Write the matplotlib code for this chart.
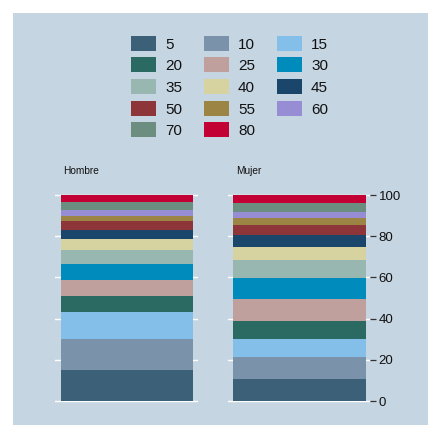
import matplotlib
matplotlib.use("Agg")
import matplotlib.pyplot as plt
from matplotlib.patches import Rectangle

plt.rcParams['font.family'] = ['Liberation Sans', 'DejaVu Sans']

categories = ["5", "10", "15", "20", "25", "30", "35", "40", "45", "50", "55", "60", "70", "80"]
colors = ["#3d6079", "#7a93aa", "#83bfe8", "#2a6a63", "#bfa09d", "#008bbd", "#98b7b0",
          "#d6d3a0", "#1b466b", "#8e353a", "#9c8444", "#978dd4", "#6c8e80", "#c20033"]
groups = ["Hombre", "Mujer"]
hombre = [15.0, 15.1, 13.1, 7.8, 7.7, 7.8, 6.8, 5.3, 4.4, 4.4, 2.4, 2.9, 3.9, 3.4]
mujer = [10.7, 10.7, 8.7, 8.7, 10.7, 10.2, 8.9, 6.3, 5.7, 4.8, 3.3, 3.2, 4.2, 3.9]
yticks = [0, 20, 40, 60, 80, 100]

BG = "#c6d5e2"
W, H = 428, 425
fig = plt.figure(figsize=(W / 100, H / 100), dpi=100, facecolor="white")
fig.patches.append(Rectangle((13 / W, 0), 1 - 13 / W, 1 - 13 / H, transform=fig.transFigure,
                             facecolor=BG, edgecolor="none", zorder=-10))

def fx(px):
    return px / W

def fy(py):
    return 1 - py / H

panel_w = 142.7
panel_top, panel_bot = 184.7, 411.3
lefts = [55.0, 227.7]
data = [hombre, mujer]

for i, (g, vals) in enumerate(zip(groups, data)):
    ax = fig.add_axes([fx(lefts[i]), fy(panel_bot), panel_w / W, (panel_bot - panel_top) / H])
    ax.set_facecolor(BG)
    bottom = 0.0
    for v, c in zip(vals, colors):
        ax.bar([0], [v], bottom=bottom, width=1.0, color=c, edgecolor="none", zorder=3)
        bottom += v
    ax.set_xlim(-0.543, 0.536)
    ax.set_ylim(-5, 105)
    ax.set_yticks(yticks)
    ax.set_xticks([])
    ax.grid(axis="y", color="white", linewidth=1.0, zorder=0)
    for s in ax.spines.values():
        s.set_visible(False)
    if i == 1:
        ax.yaxis.tick_right()
        ax.tick_params(axis="y", length=4, width=0.9, color="#333333", labelsize=9.5,
                       labelcolor="#111111", pad=2)
    else:
        ax.tick_params(axis="y", length=0, labelleft=False)
    fig.text(fx(lefts[i] + 8), fy(170.7), g, fontsize=7.3, ha="left", va="center", color="#111111")

# legend (row-major, 3 columns)
sw_x = [131, 204, 277]
txt_dx = 34
row_y = [43.2, 64.8, 86.5, 108.2, 129.8]
for k, (lab, c) in enumerate(zip(categories, colors)):
    r, col = divmod(k, 3)
    x0 = sw_x[col]
    yc = row_y[r]
    fig.patches.append(Rectangle((fx(x0), fy(yc + 7.5)), 25 / W, 15 / H, transform=fig.transFigure,
                                 facecolor=c, edgecolor="none"))
    fig.text(fx(x0 + txt_dx), fy(yc), lab, fontsize=11, ha="left", va="center_baseline", color="#111111")

fig.savefig("out.png", dpi=100, facecolor=fig.get_facecolor())
